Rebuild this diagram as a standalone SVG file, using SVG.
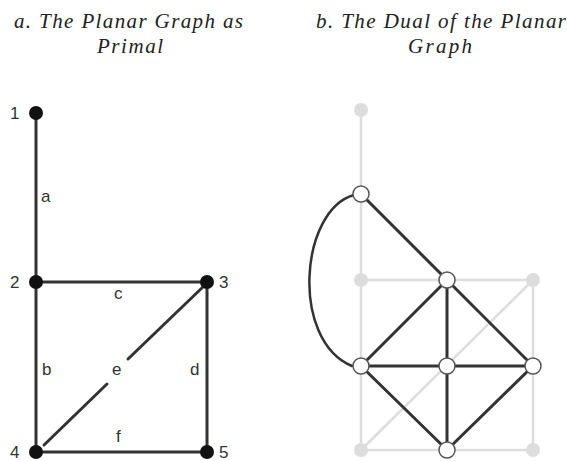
<svg xmlns="http://www.w3.org/2000/svg" width="567" height="461" viewBox="0 0 567 461">
<style>
.title{font-family:"Liberation Serif",serif;font-style:italic;font-size:21px;fill:#222}
.lbl{font-family:"Liberation Sans",Arial,sans-serif;font-size:17px;fill:#333}
.e{stroke:#333;stroke-width:3;fill:none;stroke-linecap:round}
.g{stroke:#ddd;stroke-width:2.5;fill:none}
.bn{fill:#111}
.gn{fill:#ddd}
.wn{fill:#fff;stroke:#555;stroke-width:1.5}
</style>
<rect width="567" height="461" fill="#fff"/>
<g id="titles">
<text class="title" x="128.5" y="28" text-anchor="middle" textLength="229" lengthAdjust="spacing">a. The Planar Graph as</text>
<text class="title" x="130" y="53" text-anchor="middle" textLength="66" lengthAdjust="spacing">Primal</text>
<text class="title" x="441" y="28" text-anchor="middle" textLength="250" lengthAdjust="spacing">b. The Dual of the Planar</text>
<text class="title" x="440" y="53" text-anchor="middle" textLength="64" lengthAdjust="spacing">Graph</text>
</g>
<g id="primal-edges">
<line class="e" x1="36" y1="113" x2="36" y2="282"/>
<line class="e" x1="36" y1="282" x2="207" y2="282"/>
<line class="e" x1="36" y1="282" x2="36" y2="452"/>
<line class="e" x1="207" y1="282" x2="207" y2="452"/>
<line class="e" x1="36" y1="452" x2="207" y2="452"/>
<line class="e" x1="44" y1="445" x2="107" y2="384"/>
<line class="e" x1="128" y1="359" x2="205" y2="285"/>
</g>
<g id="primal-labels">
<text class="lbl" x="41" y="202">a</text>
<text class="lbl" x="114" y="299">c</text>
<text class="lbl" x="42" y="375">b</text>
<text class="lbl" x="112" y="375">e</text>
<text class="lbl" x="190" y="375">d</text>
<text class="lbl" x="116" y="442">f</text>
</g>
<g id="p1"><circle class="bn" cx="36" cy="113" r="7"/><text class="lbl" x="10" y="119">1</text></g>
<g id="p2"><circle class="bn" cx="36" cy="282" r="7"/><text class="lbl" x="10" y="288">2</text></g>
<g id="p3"><circle class="bn" cx="207" cy="282" r="7"/><text class="lbl" x="219" y="288">3</text></g>
<g id="p4"><circle class="bn" cx="36" cy="452" r="7"/><text class="lbl" x="10" y="458">4</text></g>
<g id="p5"><circle class="bn" cx="207" cy="452" r="7"/><text class="lbl" x="219" y="458">5</text></g>
<g id="gray-primal">
<line class="g" x1="361" y1="110" x2="361" y2="450"/>
<line class="g" x1="361" y1="280" x2="533" y2="280"/>
<line class="g" x1="533" y1="280" x2="533" y2="450"/>
<line class="g" x1="361" y1="450" x2="533" y2="450"/>
<line class="g" x1="361" y1="450" x2="533" y2="280"/>
<circle class="gn" cx="361" cy="110" r="7"/>
<circle class="gn" cx="361" cy="280" r="7"/>
<circle class="gn" cx="533" cy="280" r="7"/>
<circle class="gn" cx="361" cy="450" r="7"/>
<circle class="gn" cx="533" cy="450" r="7"/>
</g>
<g id="dual-edges">
<path class="e" d="M354,195 C300,210 290,340 352,366" style="stroke-width:2.5"/>
<line class="e" x1="361" y1="194" x2="447" y2="280"/>
<line class="e" x1="447" y1="280" x2="361" y2="366"/>
<line class="e" x1="447" y1="280" x2="447" y2="450"/>
<line class="e" x1="447" y1="280" x2="533" y2="366"/>
<line class="e" x1="361" y1="366" x2="533" y2="366"/>
<line class="e" x1="361" y1="366" x2="447" y2="450"/>
<line class="e" x1="533" y1="366" x2="447" y2="450"/>
</g>
<g id="d1"><circle class="wn" cx="361" cy="194" r="8"/></g>
<g id="d2"><circle class="wn" cx="447" cy="280" r="8"/></g>
<g id="d3"><circle class="wn" cx="361" cy="366" r="8"/></g>
<g id="d4"><circle class="wn" cx="447" cy="366" r="8"/></g>
<g id="d5"><circle class="wn" cx="533" cy="366" r="8"/></g>
<g id="d6"><circle class="wn" cx="447" cy="450" r="8"/></g>
</svg>
